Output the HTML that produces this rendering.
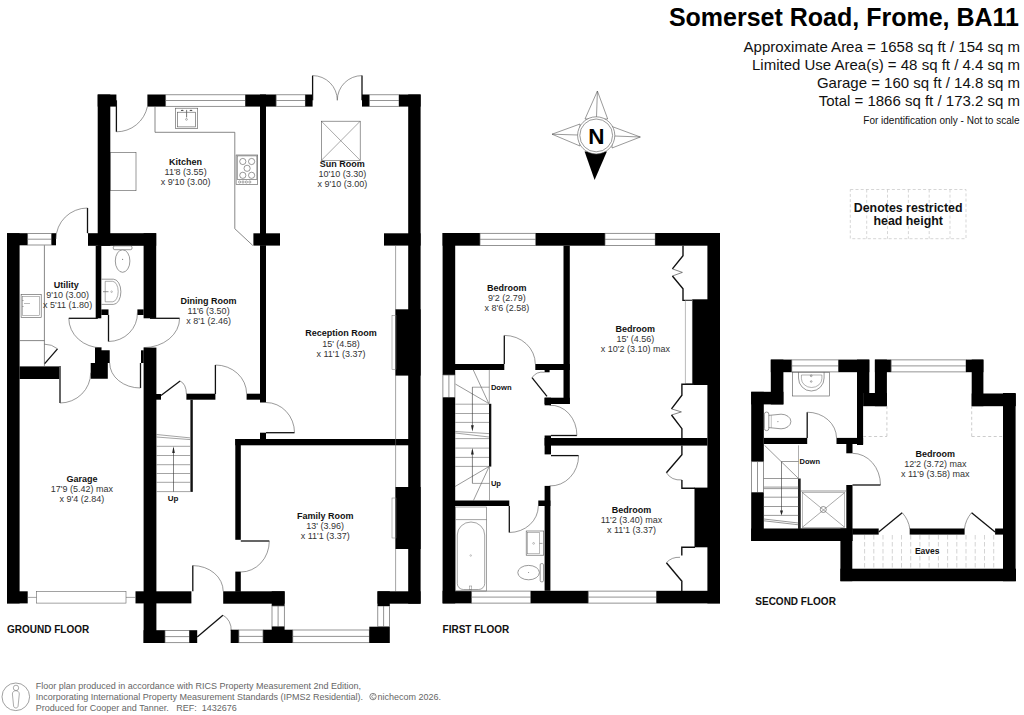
<!DOCTYPE html>
<html><head><meta charset="utf-8"><style>
html,body{margin:0;padding:0;background:#fff;width:1024px;height:715px;overflow:hidden}
svg{display:block}
text{font-family:"Liberation Sans",sans-serif;white-space:pre}
</style></head><body>
<svg width="1024" height="715" viewBox="0 0 1024 715" shape-rendering="geometricPrecision">
<rect width="1024" height="715" fill="#fff"/>
<rect x="97.7" y="94.5" width="18.7" height="12.1" fill="#000"/>
<rect x="97.7" y="94.5" width="12.6" height="151.3" fill="#000"/>
<line x1="116.4" y1="100.3" x2="116.4" y2="131.8" stroke="#111" stroke-width="1.3"/>
<path d="M116.4,131.8 A31.5,31.5 0 0 0 147.4,106.6" fill="none" stroke="#555" stroke-width="0.6"/>
<rect x="147.4" y="94.5" width="18.3" height="12.1" fill="#000"/>
<rect x="165.7" y="94.8" width="79.7" height="11.5" fill="none" stroke="#666" stroke-width="0.7"/>
<line x1="165.7" y1="100.5" x2="245.4" y2="100.5" stroke="#666" stroke-width="0.7"/>
<rect x="245.4" y="94.5" width="30.7" height="12.1" fill="#000"/>
<rect x="260.0" y="94.5" width="6.0" height="151.1" fill="#000"/>
<rect x="276.1" y="94.8" width="29.2" height="11.5" fill="none" stroke="#666" stroke-width="0.7"/>
<line x1="276.1" y1="100.5" x2="305.3" y2="100.5" stroke="#666" stroke-width="0.7"/>
<rect x="305.3" y="94.5" width="7.3" height="12.1" fill="#000"/>
<line x1="312.6" y1="75.6" x2="312.6" y2="100.3" stroke="#111" stroke-width="1.3"/>
<line x1="362.0" y1="75.6" x2="362.0" y2="100.3" stroke="#111" stroke-width="1.3"/>
<path d="M312.6,75.6 A24.7,24.7 0 0 1 337.3,100.3" fill="none" stroke="#555" stroke-width="0.6"/>
<path d="M362.0,75.6 A24.7,24.7 0 0 0 337.3,100.3" fill="none" stroke="#555" stroke-width="0.6"/>
<rect x="362.0" y="94.5" width="7.3" height="12.1" fill="#000"/>
<rect x="369.3" y="94.8" width="29.7" height="11.5" fill="none" stroke="#666" stroke-width="0.7"/>
<line x1="369.3" y1="100.5" x2="399.0" y2="100.5" stroke="#666" stroke-width="0.7"/>
<rect x="399.0" y="94.5" width="21.6" height="12.1" fill="#000"/>
<rect x="408.2" y="94.5" width="12.4" height="509.2" fill="#000"/>
<polyline points="155.0,106.6 155.0,132.3 234.8,132.3 234.8,228.7 252.8,245.5" fill="none" stroke="#555" stroke-width="0.7"/>
<rect x="175.3" y="108.2" width="22.4" height="20.4" fill="none" stroke="#555" stroke-width="0.6"/>
<rect x="177.4" y="112.2" width="18.2" height="14.7" fill="none" stroke="#555" stroke-width="0.6"/>
<ellipse cx="182.2" cy="110.4" rx="1.4" ry="0.6" fill="#555"/><ellipse cx="191" cy="110.4" rx="1.4" ry="0.6" fill="#555"/>
<line x1="186.6" y1="109.9" x2="186.6" y2="117.4" stroke="#666" stroke-width="0.9"/>
<circle cx="186.5" cy="119.4" r="0.9" fill="none" stroke="#666" stroke-width="0.5"/>
<rect x="110.3" y="152.4" width="25.7" height="38.3" fill="none" stroke="#555" stroke-width="0.6"/>
<rect x="236.1" y="155.0" width="21.6" height="29.6" fill="none" stroke="#555" stroke-width="0.6"/>
<rect x="237.2" y="155.9" width="19.7" height="23.4" fill="none" stroke="#555" stroke-width="0.6"/>
<circle cx="242.8" cy="161.5" r="3.1" fill="none" stroke="#555" stroke-width="0.6"/>
<circle cx="251.6" cy="161.5" r="3.1" fill="none" stroke="#555" stroke-width="0.6"/>
<circle cx="247.1" cy="168.3" r="3.1" fill="none" stroke="#555" stroke-width="0.6"/>
<circle cx="242.8" cy="175.3" r="3.1" fill="none" stroke="#555" stroke-width="0.6"/>
<circle cx="251.6" cy="175.3" r="3.1" fill="none" stroke="#555" stroke-width="0.6"/>
<circle cx="239.6" cy="182" r="1.1" fill="none" stroke="#555" stroke-width="0.5"/>
<circle cx="243.0" cy="182" r="1.1" fill="none" stroke="#555" stroke-width="0.5"/>
<circle cx="246.4" cy="182" r="1.1" fill="none" stroke="#555" stroke-width="0.5"/>
<circle cx="249.8" cy="182" r="1.1" fill="none" stroke="#555" stroke-width="0.5"/>
<rect x="321.4" y="121.2" width="38.8" height="39.1" fill="none" stroke="#555" stroke-width="0.6"/>
<line x1="321.4" y1="121.2" x2="360.2" y2="160.3" stroke="#555" stroke-width="0.5"/>
<line x1="360.2" y1="121.2" x2="321.4" y2="160.3" stroke="#555" stroke-width="0.5"/>
<rect x="253.4" y="233.3" width="26.6" height="12.3" fill="#000"/>
<rect x="384.0" y="233.3" width="36.6" height="12.3" fill="#000"/>
<rect x="7.0" y="233.2" width="12.6" height="370.2" fill="#000"/>
<rect x="7.0" y="233.2" width="20.7" height="12.1" fill="#000"/>
<rect x="27.7" y="233.5" width="23.9" height="11.5" fill="none" stroke="#666" stroke-width="0.7"/>
<line x1="27.7" y1="239.2" x2="51.6" y2="239.2" stroke="#666" stroke-width="0.7"/>
<rect x="51.6" y="233.2" width="4.4" height="12.1" fill="#000"/>
<line x1="87.5" y1="208.0" x2="87.5" y2="233.2" stroke="#111" stroke-width="1.3"/>
<path d="M87.5,208.0 A31.5,31.0 0 0 0 56.0,239.0" fill="none" stroke="#555" stroke-width="0.6"/>
<rect x="88.0" y="233.2" width="68.2" height="12.6" fill="#000"/>
<rect x="95.7" y="245.8" width="5.6" height="72.5" fill="#000"/>
<rect x="101.3" y="309.4" width="7.2" height="5.6" fill="#000"/>
<rect x="143.6" y="233.2" width="12.6" height="85.1" fill="#000"/>
<rect x="137.4" y="309.4" width="6.2" height="5.6" fill="#000"/>
<ellipse cx="122.6" cy="261" rx="7.3" ry="11.3" fill="none" stroke="#555" stroke-width="0.6"/>
<rect x="113.3" y="245.9" width="18.7" height="3.8" rx="1.5" fill="#fff" stroke="#555" stroke-width="0.6"/>
<circle cx="122.6" cy="259.3" r="0.6" fill="#777"/>
<path d="M101.5,279.2 L113.4,279.2 A7.5,12.6 0 0 1 113.4,304.4 L101.5,304.4" fill="none" stroke="#555" stroke-width="0.6"/>
<path d="M105.2,281.3 L112.5,281.3 A5.7,10.25 0 0 1 112.5,301.8 L105.2,301.8 Z" fill="none" stroke="#666" stroke-width="0.55"/>
<circle cx="111.6" cy="291.7" r="0.8" fill="none" stroke="#777" stroke-width="0.45"/>
<line x1="103.0" y1="291.7" x2="108.5" y2="291.7" stroke="#777" stroke-width="0.8"/>
<line x1="44.4" y1="245.3" x2="44.4" y2="365.8" stroke="#555" stroke-width="0.7"/>
<line x1="19.6" y1="340.6" x2="44.4" y2="340.6" stroke="#555" stroke-width="0.7"/>
<rect x="21.1" y="294.6" width="20.1" height="22.7" fill="none" stroke="#555" stroke-width="0.6"/>
<rect x="22.6" y="296.4" width="17.0" height="19.2" fill="none" stroke="#777" stroke-width="0.5"/>
<line x1="24.0" y1="303.5" x2="30.0" y2="303.5" stroke="#777" stroke-width="0.5"/>
<circle cx="22.9" cy="300.5" r="0.6" fill="#777"/><circle cx="22.9" cy="306.5" r="0.6" fill="#777"/>
<line x1="44.7" y1="363.7" x2="57.5" y2="348.8" stroke="#111" stroke-width="1.3"/>
<path d="M44.4,344.2 A20.0,20.0 0 0 1 57.5,348.8" fill="none" stroke="#555" stroke-width="0.6"/>
<line x1="68.8" y1="318.3" x2="97.8" y2="318.3" stroke="#111" stroke-width="1.3"/>
<path d="M68.8,318.3 A32.7,29.5 0 0 0 101.5,347.8" fill="none" stroke="#555" stroke-width="0.6"/>
<line x1="108.5" y1="315.0" x2="108.5" y2="341.5" stroke="#111" stroke-width="1.3"/>
<path d="M108.5,341.5 A29.0,28.0 0 0 0 137.4,312.6" fill="none" stroke="#555" stroke-width="0.6"/>
<line x1="150.0" y1="318.3" x2="179.6" y2="318.3" stroke="#111" stroke-width="1.3"/>
<path d="M179.6,318.3 A35.9,29.3 0 0 1 143.7,347.6" fill="none" stroke="#555" stroke-width="0.6"/>
<polygon points="95.0,347.6 101.5,347.6 101.5,350.3 109.7,350.3 109.7,363.0 107.8,363.0 107.8,378.7 90.7,378.7 90.7,363.0 95.0,363.0" fill="#000"/>
<rect x="143.6" y="347.6" width="12.8" height="295.4" fill="#000"/>
<rect x="141.0" y="350.3" width="2.7" height="12.7" fill="#000"/>
<line x1="140.5" y1="363.0" x2="140.5" y2="388.0" stroke="#111" stroke-width="1.3"/>
<path d="M109.7,363.0 A30.8,25.0 0 0 0 140.5,388.0" fill="none" stroke="#555" stroke-width="0.6"/>
<rect x="19.6" y="366.4" width="39.6" height="12.6" fill="#000"/>
<line x1="60.0" y1="366.0" x2="60.0" y2="403.0" stroke="#111" stroke-width="1.3"/>
<path d="M60.0,403.0 A30.7,30.3 0 0 0 90.7,372.7" fill="none" stroke="#555" stroke-width="0.6"/>
<rect x="156.0" y="394.0" width="5.0" height="5.7" fill="#000"/>
<line x1="161.0" y1="395.4" x2="180.1" y2="381.0" stroke="#111" stroke-width="1.3"/>
<path d="M180.1,381.0 A9.0,14.0 0 0 1 186.4,394.0" fill="none" stroke="#555" stroke-width="0.6"/>
<rect x="186.4" y="393.7" width="29.0" height="6.0" fill="#000"/>
<line x1="215.4" y1="365.0" x2="215.4" y2="394.0" stroke="#111" stroke-width="1.3"/>
<path d="M215.4,365.0 A31.2,28.7 0 0 1 246.6,393.7" fill="none" stroke="#555" stroke-width="0.6"/>
<rect x="246.6" y="393.7" width="19.4" height="6.0" fill="#000"/>
<rect x="260.0" y="245.6" width="6.0" height="156.9" fill="#000"/>
<rect x="190.4" y="399.7" width="2.4" height="92.2" fill="#111"/>
<line x1="156.4" y1="434.5" x2="190.4" y2="437.9" stroke="#666" stroke-width="0.6"/>
<line x1="156.4" y1="437.0" x2="190.4" y2="439.6" stroke="#666" stroke-width="0.6"/>
<line x1="156.4" y1="446.3" x2="190.4" y2="446.3" stroke="#666" stroke-width="0.6"/>
<line x1="156.4" y1="455.5" x2="190.4" y2="455.5" stroke="#666" stroke-width="0.6"/>
<line x1="156.4" y1="464.7" x2="190.4" y2="464.7" stroke="#666" stroke-width="0.6"/>
<line x1="156.4" y1="473.5" x2="190.4" y2="473.5" stroke="#666" stroke-width="0.6"/>
<line x1="156.4" y1="482.3" x2="190.4" y2="482.3" stroke="#666" stroke-width="0.6"/>
<line x1="156.4" y1="491.6" x2="190.4" y2="491.6" stroke="#666" stroke-width="0.6"/>
<line x1="173.5" y1="448.0" x2="173.5" y2="491.6" stroke="#333" stroke-width="0.6"/>
<polygon points="173.5,446.3 172.2,453 174.8,453" fill="#222"/>
<text x="173.1" y="500.6" font-size="8" font-weight="bold" text-anchor="middle" fill="#111">Up</text>
<line x1="266.0" y1="432.7" x2="294.5" y2="432.7" stroke="#111" stroke-width="1.3"/>
<path d="M266.0,402.5 A28.5,30.2 0 0 1 294.5,432.7" fill="none" stroke="#555" stroke-width="0.6"/>
<rect x="260.0" y="432.7" width="6.0" height="6.3" fill="#000"/>
<rect x="235.3" y="439.0" width="173.7" height="6.3" fill="#000"/>
<rect x="235.3" y="439.0" width="5.5" height="100.8" fill="#000"/>
<rect x="235.3" y="571.6" width="5.5" height="20.2" fill="#000"/>
<line x1="240.8" y1="541.0" x2="269.3" y2="541.0" stroke="#111" stroke-width="1.3"/>
<path d="M269.3,541.0 A28.5,31.0 0 0 1 240.8,572.0" fill="none" stroke="#555" stroke-width="0.6"/>
<line x1="395.6" y1="245.6" x2="395.6" y2="591.3" stroke="#666" stroke-width="0.6"/>
<rect x="395.5" y="309.3" width="25.1" height="66.3" fill="#000"/>
<rect x="392.0" y="315.6" width="4.0" height="53.7" fill="none" stroke="#777" stroke-width="0.5"/>
<rect x="395.5" y="487.0" width="25.1" height="62.0" fill="#000"/>
<rect x="392.0" y="498.0" width="4.0" height="40.0" fill="none" stroke="#777" stroke-width="0.5"/>
<rect x="135.5" y="591.3" width="55.9" height="12.1" fill="#000"/>
<line x1="192.8" y1="565.6" x2="192.8" y2="591.3" stroke="#111" stroke-width="1.3"/>
<path d="M192.8,565.6 A30.4,25.7 0 0 1 223.2,591.3" fill="none" stroke="#555" stroke-width="0.6"/>
<rect x="223.2" y="591.3" width="61.4" height="12.4" fill="#000"/>
<rect x="271.7" y="591.3" width="12.9" height="14.7" fill="#000"/>
<rect x="272.0" y="606.0" width="12.3" height="20.7" fill="none" stroke="#666" stroke-width="0.7"/>
<line x1="278.1" y1="606.0" x2="278.1" y2="626.7" stroke="#666" stroke-width="0.7"/>
<rect x="271.7" y="626.7" width="12.9" height="3.3" fill="#000"/>
<rect x="263.0" y="629.7" width="29.8" height="13.3" fill="#000"/>
<rect x="292.8" y="630.0" width="76.5" height="12.7" fill="none" stroke="#666" stroke-width="0.7"/>
<line x1="292.8" y1="636.4" x2="369.3" y2="636.4" stroke="#666" stroke-width="0.7"/>
<rect x="369.3" y="626.7" width="20.5" height="16.3" fill="#000"/>
<rect x="377.8" y="606.0" width="11.7" height="20.7" fill="none" stroke="#666" stroke-width="0.7"/>
<line x1="383.6" y1="606.0" x2="383.6" y2="626.7" stroke="#666" stroke-width="0.7"/>
<rect x="377.5" y="591.3" width="43.1" height="12.4" fill="#000"/>
<rect x="377.5" y="591.3" width="12.3" height="14.7" fill="#000"/>
<rect x="143.6" y="630.2" width="21.4" height="12.8" fill="#000"/>
<rect x="165.0" y="630.5" width="24.4" height="12.2" fill="none" stroke="#666" stroke-width="0.7"/>
<line x1="165.0" y1="636.6" x2="189.4" y2="636.6" stroke="#666" stroke-width="0.7"/>
<rect x="189.4" y="630.2" width="7.8" height="12.8" fill="#000"/>
<line x1="197.2" y1="636.9" x2="222.9" y2="615.2" stroke="#111" stroke-width="1.3"/>
<path d="M222.9,615.2 A14.0,16.0 0 0 1 231.2,631.0" fill="none" stroke="#555" stroke-width="0.6"/>
<rect x="230.7" y="629.7" width="8.2" height="13.3" fill="#000"/>
<rect x="238.9" y="630.0" width="24.1" height="12.7" fill="none" stroke="#666" stroke-width="0.7"/>
<line x1="238.9" y1="636.4" x2="263.0" y2="636.4" stroke="#666" stroke-width="0.7"/>
<rect x="7.0" y="591.3" width="20.7" height="12.1" fill="#000"/>
<line x1="27.7" y1="597.4" x2="36.5" y2="597.4" stroke="#666" stroke-width="0.6"/>
<line x1="126.0" y1="597.4" x2="135.5" y2="597.4" stroke="#666" stroke-width="0.6"/>
<rect x="36.5" y="591.6" width="89.5" height="11.5" fill="none" stroke="#666" stroke-width="0.6"/>
<text x="185.6" y="164.5" font-size="9" font-weight="bold" text-anchor="middle" fill="#111">Kitchen</text>
<text x="185.6" y="174.7" font-size="9" font-weight="normal" text-anchor="middle" fill="#333">11'8 (3.55)</text>
<text x="185.6" y="184.9" font-size="9" font-weight="normal" text-anchor="middle" fill="#333">x 9'10 (3.00)</text>
<text x="342.3" y="166.5" font-size="9" font-weight="bold" text-anchor="middle" fill="#111">Sun Room</text>
<text x="342.3" y="176.7" font-size="9" font-weight="normal" text-anchor="middle" fill="#333">10'10 (3.30)</text>
<text x="342.3" y="186.9" font-size="9" font-weight="normal" text-anchor="middle" fill="#333">x 9'10 (3.00)</text>
<text x="66.3" y="287.8" font-size="9" font-weight="bold" text-anchor="middle" fill="#111">Utility</text>
<text x="67.6" y="298.0" font-size="9" font-weight="normal" text-anchor="middle" fill="#333">9'10 (3.00)</text>
<text x="67.6" y="308.2" font-size="9" font-weight="normal" text-anchor="middle" fill="#333">x 5'11 (1.80)</text>
<text x="208.6" y="303.8" font-size="9" font-weight="bold" text-anchor="middle" fill="#111">Dining Room</text>
<text x="208.6" y="314.0" font-size="9" font-weight="normal" text-anchor="middle" fill="#333">11'6 (3.50)</text>
<text x="208.6" y="324.2" font-size="9" font-weight="normal" text-anchor="middle" fill="#333">x 8'1 (2.46)</text>
<text x="341.0" y="336.3" font-size="9" font-weight="bold" text-anchor="middle" fill="#111">Reception Room</text>
<text x="341.0" y="346.5" font-size="9" font-weight="normal" text-anchor="middle" fill="#333">15' (4.58)</text>
<text x="341.0" y="356.7" font-size="9" font-weight="normal" text-anchor="middle" fill="#333">x 11'1 (3.37)</text>
<text x="81.9" y="481.6" font-size="9" font-weight="bold" text-anchor="middle" fill="#111">Garage</text>
<text x="81.9" y="491.8" font-size="9" font-weight="normal" text-anchor="middle" fill="#333">17'9 (5.42) max</text>
<text x="81.9" y="502.0" font-size="9" font-weight="normal" text-anchor="middle" fill="#333">x 9'4 (2.84)</text>
<text x="325.2" y="519.3" font-size="9" font-weight="bold" text-anchor="middle" fill="#111">Family Room</text>
<text x="325.2" y="528.6" font-size="9" font-weight="normal" text-anchor="middle" fill="#333">13' (3.96)</text>
<text x="325.2" y="538.8" font-size="9" font-weight="normal" text-anchor="middle" fill="#333">x 11'1 (3.37)</text>
<text x="7.0" y="632.8" font-size="10" font-weight="bold" text-anchor="start" fill="#111">GROUND FLOOR</text>
<rect x="442.6" y="233.0" width="37.4" height="12.7" fill="#000"/>
<rect x="480.0" y="233.3" width="55.8" height="12.1" fill="none" stroke="#666" stroke-width="0.7"/>
<line x1="480.0" y1="239.3" x2="535.8" y2="239.3" stroke="#666" stroke-width="0.7"/>
<rect x="535.8" y="233.0" width="69.2" height="12.7" fill="#000"/>
<rect x="605.0" y="233.3" width="50.2" height="12.1" fill="none" stroke="#666" stroke-width="0.7"/>
<line x1="605.0" y1="239.3" x2="655.2" y2="239.3" stroke="#666" stroke-width="0.7"/>
<rect x="655.2" y="233.0" width="64.8" height="12.7" fill="#000"/>
<rect x="442.6" y="233.0" width="12.6" height="142.0" fill="#000"/>
<rect x="442.9" y="375.0" width="12.0" height="22.5" fill="none" stroke="#666" stroke-width="0.7"/>
<line x1="448.9" y1="375.0" x2="448.9" y2="397.5" stroke="#666" stroke-width="0.7"/>
<rect x="442.6" y="397.5" width="12.6" height="205.9" fill="#000"/>
<rect x="707.4" y="233.0" width="12.6" height="370.4" fill="#000"/>
<rect x="442.6" y="590.8" width="29.0" height="12.6" fill="#000"/>
<rect x="471.6" y="591.1" width="59.2" height="12.0" fill="none" stroke="#666" stroke-width="0.7"/>
<line x1="471.6" y1="597.1" x2="530.8" y2="597.1" stroke="#666" stroke-width="0.7"/>
<rect x="530.8" y="590.8" width="57.4" height="12.6" fill="#000"/>
<rect x="588.2" y="591.1" width="68.3" height="12.0" fill="none" stroke="#666" stroke-width="0.7"/>
<line x1="588.2" y1="597.1" x2="656.5" y2="597.1" stroke="#666" stroke-width="0.7"/>
<rect x="656.5" y="590.8" width="63.5" height="12.6" fill="#000"/>
<rect x="563.5" y="245.7" width="6.3" height="158.3" fill="#000"/>
<rect x="455.0" y="364.0" width="49.3" height="6.0" fill="#000"/>
<line x1="504.3" y1="335.4" x2="504.3" y2="364.0" stroke="#111" stroke-width="1.3"/>
<path d="M504.3,335.4 A31.0,28.6 0 0 1 535.3,364.0" fill="none" stroke="#555" stroke-width="0.6"/>
<rect x="535.3" y="364.0" width="34.5" height="6.0" fill="#000"/>
<rect x="544.6" y="397.7" width="25.2" height="6.3" fill="#000"/>
<rect x="544.6" y="397.7" width="6.4" height="7.6" fill="#000"/>
<rect x="544.6" y="370.0" width="5.0" height="2.3" fill="#000"/>
<line x1="532.0" y1="377.6" x2="547.0" y2="396.4" stroke="#111" stroke-width="1.3"/>
<path d="M532.0,377.6 A13.0,13.0 0 0 1 544.6,372.3" fill="none" stroke="#555" stroke-width="0.6"/>
<rect x="544.6" y="435.5" width="6.4" height="18.9" fill="#000"/>
<rect x="544.6" y="438.0" width="162.8" height="7.6" fill="#000"/>
<line x1="551.0" y1="435.5" x2="576.9" y2="435.5" stroke="#111" stroke-width="1.3"/>
<path d="M576.9,435.5 A26.0,30.0 0 0 0 549.6,405.3" fill="none" stroke="#555" stroke-width="0.6"/>
<line x1="551.0" y1="455.6" x2="578.6" y2="455.6" stroke="#111" stroke-width="1.3"/>
<path d="M578.6,455.6 A28.0,30.3 0 0 1 549.6,485.9" fill="none" stroke="#555" stroke-width="0.6"/>
<rect x="544.6" y="485.9" width="5.8" height="104.9" fill="#000"/>
<rect x="455.0" y="500.5" width="54.3" height="5.5" fill="#000"/>
<line x1="509.3" y1="506.0" x2="509.3" y2="532.5" stroke="#111" stroke-width="1.3"/>
<path d="M509.3,532.5 A29.0,26.5 0 0 0 538.3,506.0" fill="none" stroke="#555" stroke-width="0.6"/>
<rect x="538.3" y="500.5" width="12.1" height="5.5" fill="#000"/>
<rect x="489.0" y="403.8" width="2.3" height="62.8" fill="#111"/>
<line x1="455.2" y1="404.2" x2="489.0" y2="404.2" stroke="#666" stroke-width="0.6"/>
<line x1="455.2" y1="413.5" x2="489.0" y2="413.5" stroke="#666" stroke-width="0.6"/>
<line x1="455.2" y1="422.4" x2="489.0" y2="422.4" stroke="#666" stroke-width="0.6"/>
<line x1="455.2" y1="438.6" x2="489.0" y2="438.6" stroke="#666" stroke-width="0.6"/>
<line x1="455.2" y1="448.1" x2="489.0" y2="448.1" stroke="#666" stroke-width="0.6"/>
<line x1="455.2" y1="457.4" x2="489.0" y2="457.4" stroke="#666" stroke-width="0.6"/>
<line x1="455.2" y1="466.4" x2="489.0" y2="466.4" stroke="#666" stroke-width="0.6"/>
<line x1="455.2" y1="431.5" x2="489.0" y2="433.6" stroke="#666" stroke-width="0.6"/>
<line x1="455.2" y1="433.0" x2="489.0" y2="437.0" stroke="#666" stroke-width="0.6"/>
<line x1="489.3" y1="369.8" x2="489.3" y2="403.5" stroke="#666" stroke-width="0.6"/>
<line x1="473.2" y1="369.8" x2="488.8" y2="403.5" stroke="#555" stroke-width="0.6"/>
<line x1="455.5" y1="384.1" x2="488.8" y2="403.5" stroke="#555" stroke-width="0.6"/>
<line x1="472.2" y1="387.2" x2="489.3" y2="387.2" stroke="#666" stroke-width="0.6"/>
<line x1="472.4" y1="387.2" x2="472.4" y2="429.0" stroke="#333" stroke-width="0.6"/>
<polygon points="472.4,431.4 471,425.2 473.8,425.2" fill="#222"/>
<line x1="489.2" y1="466.4" x2="454.9" y2="486.6" stroke="#555" stroke-width="0.6"/>
<line x1="489.2" y1="466.4" x2="473.4" y2="500.6" stroke="#555" stroke-width="0.6"/>
<line x1="489.5" y1="466.4" x2="489.5" y2="500.6" stroke="#666" stroke-width="0.6"/>
<line x1="472.4" y1="450.0" x2="472.4" y2="483.4" stroke="#333" stroke-width="0.6"/>
<line x1="472.4" y1="483.4" x2="489.5" y2="483.4" stroke="#666" stroke-width="0.6"/>
<polygon points="472.4,448 471,454.5 473.8,454.5" fill="#222"/>
<text x="490.9" y="389.8" font-size="7.6" font-weight="bold" text-anchor="start" fill="#111">Down</text>
<text x="490.9" y="485.7" font-size="7.6" font-weight="bold" text-anchor="start" fill="#111">Up</text>
<polyline points="683.0,245.7 683.0,255.7 672.4,268.9" fill="none" stroke="#111" stroke-width="1.4"/>
<polyline points="672.4,268.9 682.4,272.4 672.4,276.0" fill="none" stroke="#333" stroke-width="0.6"/>
<polyline points="672.4,276.0 683.0,288.7 683.0,300.4 692.2,300.4" fill="none" stroke="#111" stroke-width="1.4"/>
<rect x="692.2" y="299.3" width="27.8" height="85.7" fill="#000"/>
<rect x="685.2" y="300.6" width="7.0" height="83.1" fill="none" stroke="#777" stroke-width="0.5"/>
<polyline points="694.0,384.3 681.9,384.3 681.9,395.2 671.5,408.9" fill="none" stroke="#111" stroke-width="1.4"/>
<polyline points="671.5,408.9 681.4,411.9 671.5,415.0" fill="none" stroke="#333" stroke-width="0.6"/>
<polyline points="671.5,415.0 681.9,428.7 681.9,438.0" fill="none" stroke="#111" stroke-width="1.4"/>
<polyline points="681.9,445.6 681.9,454.7 666.4,472.7" fill="none" stroke="#111" stroke-width="1.4"/>
<path d="M666.4,472.7 A16.0,14.0 0 0 0 681.9,479.9" fill="none" stroke="#555" stroke-width="0.6"/>
<polyline points="681.9,479.9 681.9,488.2 695.0,488.2" fill="none" stroke="#111" stroke-width="1.4"/>
<rect x="694.5" y="487.6" width="25.5" height="59.7" fill="#000"/>
<polyline points="695.0,547.3 681.8,547.3 681.8,555.5" fill="none" stroke="#111" stroke-width="1.4"/>
<polyline points="682.3,581.8 666.4,562.7" fill="none" stroke="#111" stroke-width="1.4"/>
<path d="M666.4,562.7 A16.0,14.0 0 0 1 680.0,557.3" fill="none" stroke="#555" stroke-width="0.6"/>
<line x1="681.8" y1="581.8" x2="681.8" y2="591.3" stroke="#111" stroke-width="1.4"/>
<rect x="455.6" y="507.0" width="31.0" height="84.0" fill="none" stroke="#666" stroke-width="0.6"/>
<line x1="455.6" y1="519.6" x2="486.6" y2="519.6" stroke="#666" stroke-width="0.6"/>
<path d="M457.3,535 A13.7,13 0 0 1 484.7,535 L484.7,583.5 A6,6 0 0 1 478.7,589.5 L463.3,589.5 A6,6 0 0 1 457.3,583.5 Z" fill="none" stroke="#666" stroke-width="0.6"/>
<circle cx="470.7" cy="555.5" r="0.8" fill="none" stroke="#777" stroke-width="0.4"/>
<rect x="469.6" y="586.0" width="2.2" height="3.5" fill="none" stroke="#666" stroke-width="0.4"/>
<rect x="526.2" y="531.0" width="17.5" height="24.2" fill="none" stroke="#555" stroke-width="0.6"/>
<rect x="527.6" y="532.4" width="11.9" height="21.4" fill="none" stroke="#777" stroke-width="0.5"/>
<circle cx="533.6" cy="543.4" r="0.9" fill="none" stroke="#666" stroke-width="0.4"/>
<line x1="539.5" y1="543.4" x2="542.5" y2="543.4" stroke="#666" stroke-width="0.6"/>
<ellipse cx="528.6" cy="572.6" rx="10.8" ry="7.2" fill="none" stroke="#555" stroke-width="0.6"/>
<circle cx="528.6" cy="572.6" r="0.5" fill="#777"/>
<rect x="540.2" y="563.6" width="3.3" height="18.2" rx="1.2" fill="none" stroke="#555" stroke-width="0.6"/>
<text x="506.8" y="290.5" font-size="9" font-weight="bold" text-anchor="middle" fill="#111">Bedroom</text>
<text x="506.8" y="300.7" font-size="9" font-weight="normal" text-anchor="middle" fill="#333">9'2 (2.79)</text>
<text x="506.8" y="310.9" font-size="9" font-weight="normal" text-anchor="middle" fill="#333">x 8'6 (2.58)</text>
<text x="635.3" y="331.6" font-size="9" font-weight="bold" text-anchor="middle" fill="#111">Bedroom</text>
<text x="635.3" y="341.8" font-size="9" font-weight="normal" text-anchor="middle" fill="#333">15' (4.56)</text>
<text x="635.3" y="352.0" font-size="9" font-weight="normal" text-anchor="middle" fill="#333">x 10'2 (3.10) max</text>
<text x="631.5" y="513.2" font-size="9" font-weight="bold" text-anchor="middle" fill="#111">Bedroom</text>
<text x="631.5" y="522.5" font-size="9" font-weight="normal" text-anchor="middle" fill="#333">11'2 (3.40) max</text>
<text x="631.5" y="532.7" font-size="9" font-weight="normal" text-anchor="middle" fill="#333">x 11'1 (3.37)</text>
<text x="442.6" y="632.9" font-size="10" font-weight="bold" text-anchor="start" fill="#111">FIRST FLOOR</text>
<rect x="770.8" y="359.6" width="12.6" height="44.8" fill="#000"/>
<rect x="751.2" y="391.8" width="32.2" height="12.6" fill="#000"/>
<rect x="751.2" y="391.8" width="12.6" height="69.9" fill="#000"/>
<rect x="751.5" y="461.7" width="12.0" height="30.8" fill="none" stroke="#666" stroke-width="0.7"/>
<line x1="757.5" y1="461.7" x2="757.5" y2="492.5" stroke="#666" stroke-width="0.7"/>
<rect x="751.2" y="492.5" width="12.6" height="48.5" fill="#000"/>
<rect x="770.8" y="359.6" width="21.0" height="12.6" fill="#000"/>
<rect x="791.8" y="359.9" width="46.7" height="12.0" fill="none" stroke="#666" stroke-width="0.7"/>
<line x1="791.8" y1="365.9" x2="838.5" y2="365.9" stroke="#666" stroke-width="0.7"/>
<rect x="838.5" y="359.6" width="30.8" height="12.6" fill="#000"/>
<rect x="857.0" y="359.6" width="12.3" height="33.4" fill="#000"/>
<rect x="857.0" y="393.0" width="6.1" height="52.0" fill="#000"/>
<rect x="874.9" y="359.6" width="12.0" height="46.6" fill="#000"/>
<rect x="863.1" y="393.0" width="23.8" height="13.2" fill="#000"/>
<rect x="874.9" y="359.6" width="16.2" height="12.6" fill="#000"/>
<rect x="891.1" y="359.9" width="74.9" height="12.0" fill="none" stroke="#666" stroke-width="0.7"/>
<line x1="891.1" y1="365.9" x2="966.0" y2="365.9" stroke="#666" stroke-width="0.7"/>
<rect x="966.0" y="359.6" width="17.4" height="12.6" fill="#000"/>
<rect x="971.7" y="359.6" width="11.7" height="46.6" fill="#000"/>
<rect x="971.7" y="393.5" width="44.1" height="12.7" fill="#000"/>
<rect x="1003.0" y="393.0" width="12.6" height="188.2" fill="#000"/>
<g stroke="#aaa" stroke-width="0.6" stroke-dasharray="3,2.5" fill="none">
<line x1="886.9" y1="405.8" x2="886.9" y2="436.5" stroke="#aaa" stroke-width="0.6"/>
<line x1="971.7" y1="405.8" x2="971.7" y2="436.5" stroke="#aaa" stroke-width="0.6"/>
<line x1="863.1" y1="436.5" x2="886.9" y2="436.5" stroke="#aaa" stroke-width="0.6"/>
<line x1="971.7" y1="436.5" x2="1003.0" y2="436.5" stroke="#aaa" stroke-width="0.6"/>
</g>
<rect x="763.8" y="437.9" width="43.4" height="6.1" fill="#000"/>
<line x1="807.2" y1="412.2" x2="807.2" y2="437.9" stroke="#111" stroke-width="1.3"/>
<path d="M807.2,412.2 A29.3,25.7 0 0 1 836.5,437.9" fill="none" stroke="#555" stroke-width="0.6"/>
<rect x="836.5" y="437.9" width="26.6" height="6.1" fill="#000"/>
<rect x="846.3" y="444.0" width="6.2" height="9.3" fill="#000"/>
<line x1="852.5" y1="485.0" x2="880.5" y2="485.0" stroke="#111" stroke-width="1.3"/>
<path d="M852.5,453.3 A28.0,31.7 0 0 1 880.5,485.0" fill="none" stroke="#555" stroke-width="0.6"/>
<rect x="846.3" y="485.0" width="6.2" height="56.0" fill="#000"/>
<rect x="798.0" y="478.5" width="2.7" height="50.4" fill="#222"/>
<rect x="800.7" y="491.0" width="45.6" height="37.9" fill="none" stroke="#555" stroke-width="0.6"/>
<rect x="802.3" y="492.6" width="42.4" height="34.7" fill="none" stroke="#777" stroke-width="0.5"/>
<line x1="802.3" y1="492.6" x2="844.7" y2="527.3" stroke="#555" stroke-width="0.5"/>
<line x1="844.7" y1="492.6" x2="802.3" y2="527.3" stroke="#555" stroke-width="0.5"/>
<circle cx="823.3" cy="509.5" r="3" fill="none" stroke="#777" stroke-width="0.8"/>
<rect x="751.2" y="528.5" width="101.1" height="12.5" fill="#000"/>
<rect x="840.4" y="528.5" width="11.9" height="52.7" fill="#000"/>
<rect x="840.4" y="568.7" width="175.6" height="12.5" fill="#000"/>
<rect x="852.3" y="528.5" width="26.4" height="6.1" fill="#000"/>
<line x1="878.7" y1="531.9" x2="902.2" y2="512.7" stroke="#111" stroke-width="1.3"/>
<path d="M902.2,512.7 A31.0,31.0 0 0 1 909.9,529.0" fill="none" stroke="#555" stroke-width="0.6"/>
<rect x="909.7" y="528.5" width="54.9" height="6.1" fill="#000"/>
<path d="M964.4,529.0 A31.0,31.0 0 0 1 971.6,512.7" fill="none" stroke="#555" stroke-width="0.6"/>
<line x1="971.6" y1="512.7" x2="995.1" y2="531.9" stroke="#111" stroke-width="1.3"/>
<rect x="995.1" y="528.5" width="7.9" height="6.1" fill="#000"/>
<g stroke="#c2c2c2" stroke-width="0.7" stroke-dasharray="4.5,2.5">
<line x1="864.6" y1="535" x2="864.6" y2="568.5"/>
<line x1="873.8" y1="535" x2="873.8" y2="568.5"/>
<line x1="883.0" y1="535" x2="883.0" y2="568.5"/>
<line x1="892.3" y1="535" x2="892.3" y2="568.5"/>
<line x1="901.5" y1="535" x2="901.5" y2="568.5"/>
<line x1="910.7" y1="535" x2="910.7" y2="568.5"/>
<line x1="919.9" y1="535" x2="919.9" y2="568.5"/>
<line x1="929.1" y1="535" x2="929.1" y2="568.5"/>
<line x1="938.4" y1="535" x2="938.4" y2="568.5"/>
<line x1="947.6" y1="535" x2="947.6" y2="568.5"/>
<line x1="956.8" y1="535" x2="956.8" y2="568.5"/>
<line x1="966.0" y1="535" x2="966.0" y2="568.5"/>
<line x1="975.2" y1="535" x2="975.2" y2="568.5"/>
<line x1="984.5" y1="535" x2="984.5" y2="568.5"/>
<line x1="993.7" y1="535" x2="993.7" y2="568.5"/>
</g>
<path d="M768.8,415.4 L781.1,414.2 A9.8,7.3 0 0 1 781.1,428.8 L768.8,427.6" fill="none" stroke="#555" stroke-width="0.6"/>
<line x1="771.3" y1="415.0" x2="771.3" y2="428.0" stroke="#888" stroke-width="0.5"/>
<rect x="764.4" y="412.1" width="4.4" height="18.5" rx="2" fill="none" stroke="#555" stroke-width="0.6"/>
<circle cx="777.9" cy="421.6" r="0.6" fill="#888"/>
<rect x="792.6" y="372.2" width="36.9" height="23.8" fill="none" stroke="#555" stroke-width="0.6"/>
<path d="M798.5,372.2 L798.5,378 A12.8,13 0 0 0 824.1,378 L824.1,372.2" fill="none" stroke="#555" stroke-width="0.6"/>
<path d="M801.4,375 L801.4,378.5 A10.25,9 0 0 0 821.9,378.5 L821.9,375 Z" fill="none" stroke="#666" stroke-width="0.5"/>
<circle cx="811.2" cy="375.8" r="0.9" fill="none" stroke="#555" stroke-width="0.5"/><circle cx="811.2" cy="381.5" r="0.8" fill="none" stroke="#555" stroke-width="0.5"/>
<line x1="763.8" y1="478.5" x2="798.5" y2="478.5" stroke="#555" stroke-width="0.6"/>
<line x1="763.8" y1="487.1" x2="798.5" y2="487.1" stroke="#555" stroke-width="0.6"/>
<line x1="763.8" y1="488.6" x2="798.5" y2="488.6" stroke="#555" stroke-width="0.6"/>
<line x1="763.8" y1="497.2" x2="798.5" y2="497.2" stroke="#555" stroke-width="0.6"/>
<line x1="763.8" y1="506.5" x2="798.5" y2="506.5" stroke="#555" stroke-width="0.6"/>
<line x1="763.8" y1="515.4" x2="798.5" y2="515.4" stroke="#555" stroke-width="0.6"/>
<line x1="763.8" y1="519.0" x2="798.5" y2="523.0" stroke="#555" stroke-width="0.6"/>
<line x1="763.8" y1="520.8" x2="798.5" y2="524.8" stroke="#555" stroke-width="0.6"/>
<line x1="764.6" y1="445.4" x2="798.5" y2="478.5" stroke="#555" stroke-width="0.6"/>
<line x1="798.5" y1="445.4" x2="798.5" y2="478.5" stroke="#777" stroke-width="0.6"/>
<line x1="781.5" y1="461.5" x2="798.5" y2="461.5" stroke="#555" stroke-width="0.6"/>
<line x1="781.5" y1="461.5" x2="781.5" y2="512.0" stroke="#333" stroke-width="0.6"/>
<polygon points="781.5,515.6 780,510.5 783,510.5" fill="#222"/>
<text x="799.6" y="464.0" font-size="7.5" font-weight="bold" text-anchor="start" fill="#111">Down</text>
<text x="935.3" y="457.0" font-size="9" font-weight="bold" text-anchor="middle" fill="#111">Bedroom</text>
<text x="935.3" y="467.2" font-size="9" font-weight="normal" text-anchor="middle" fill="#333">12'2 (3.72) max</text>
<text x="935.3" y="477.4" font-size="9" font-weight="normal" text-anchor="middle" fill="#333">x 11'9 (3.58) max</text>
<text x="927.2" y="553.5" font-size="8.5" font-weight="bold" text-anchor="middle" fill="#111">Eaves</text>
<text x="755.3" y="604.8" font-size="10" font-weight="bold" text-anchor="start" fill="#111">SECOND FLOOR</text>
<g stroke="#555" stroke-width="0.6" fill="none">
<polygon points="597.4,91 607.7,119 585,119"/>
<line x1="597.4" y1="91" x2="596.5" y2="117"/>
<polygon points="552,134.2 580,124 580,146"/>
<line x1="552" y1="134.2" x2="578" y2="135"/>
<polygon points="640.3,137 612,126.5 612,148"/>
<line x1="640.3" y1="137" x2="614.5" y2="136"/>
</g>
<polygon points="584.6,151.5 606.9,151.5 594.6,180" fill="#000"/>
<circle cx="596.2" cy="135.4" r="18.6" fill="#fff" stroke="#555" stroke-width="0.6"/>
<circle cx="596.2" cy="135.4" r="16.4" fill="none" stroke="#555" stroke-width="0.6"/>
<text x="596.3" y="143.9" font-size="22.5" font-weight="bold" text-anchor="middle" fill="#000">N</text>
<g stroke="#c4c4c4" stroke-width="0.7" stroke-dasharray="3,2.2" fill="none">
<rect x="850.3" y="189.5" width="115.7" height="49.2"/>
<line x1="866.7" y1="189.5" x2="866.7" y2="238.7"/>
<line x1="887.5" y1="189.5" x2="887.5" y2="238.7"/>
<line x1="908.4" y1="189.5" x2="908.4" y2="238.7"/>
<line x1="929.2" y1="189.5" x2="929.2" y2="238.7"/>
<line x1="950" y1="189.5" x2="950" y2="238.7"/>
</g>
<text x="908.2" y="211.5" font-size="12.4" font-weight="bold" text-anchor="middle" fill="#111">Denotes restricted</text>
<text x="908.2" y="225.1" font-size="12.4" font-weight="bold" text-anchor="middle" fill="#111">head height</text>
<text x="1019.0" y="26.0" font-size="25" font-weight="bold" text-anchor="end" fill="#000">Somerset Road, Frome, BA11</text>
<text x="1020.0" y="51.8" font-size="15" font-weight="normal" text-anchor="end" fill="#111">Approximate Area = 1658 sq ft / 154 sq m</text>
<text x="1020.0" y="70.1" font-size="15" font-weight="normal" text-anchor="end" fill="#111">Limited Use Area(s) = 48 sq ft / 4.4 sq m</text>
<text x="1020.0" y="88.1" font-size="15" font-weight="normal" text-anchor="end" fill="#111">Garage = 160 sq ft / 14.8 sq m</text>
<text x="1020.0" y="105.6" font-size="15" font-weight="normal" text-anchor="end" fill="#111">Total = 1866 sq ft / 173.2 sq m</text>
<text x="1019.5" y="123.8" font-size="10" font-weight="normal" text-anchor="end" fill="#111">For identification only - Not to scale</text>
<circle cx="15.8" cy="696.8" r="13.8" fill="none" stroke="#888" stroke-width="0.8"/>
<circle cx="16" cy="687.9" r="2.7" fill="none" stroke="#888" stroke-width="0.7"/>
<path d="M12.4,694 C12.4,689.6 19.3,689.6 19.3,694 L18.1,706 C17.9,708.6 13.8,708.6 13.6,706 Z" fill="none" stroke="#888" stroke-width="0.7"/>
<text x="35.8" y="688.8" font-size="9" font-weight="normal" text-anchor="start" fill="#666">Floor plan produced in accordance with RICS Property Measurement 2nd Edition,</text>
<text x="35.8" y="700.0" font-size="9" font-weight="normal" text-anchor="start" fill="#666">Incorporating International Property Measurement Standards (IPMS2 Residential).</text>
<text x="35.8" y="710.5" font-size="9" font-weight="normal" text-anchor="start" fill="#666">Produced for Cooper and Tanner.   REF:  1432676</text>
<circle cx="373" cy="696.6" r="3.2" fill="none" stroke="#777" stroke-width="0.9"/>
<path d="M374.6,695.3 A1.7,1.7 0 1 0 374.6,697.9" fill="none" stroke="#777" stroke-width="0.8"/>
<text x="377.4" y="700.0" font-size="9" font-weight="normal" text-anchor="start" fill="#666">nichecom</text>
<text x="418.5" y="700.0" font-size="9" font-weight="normal" text-anchor="start" fill="#666">2026.</text>
</svg></body></html>
